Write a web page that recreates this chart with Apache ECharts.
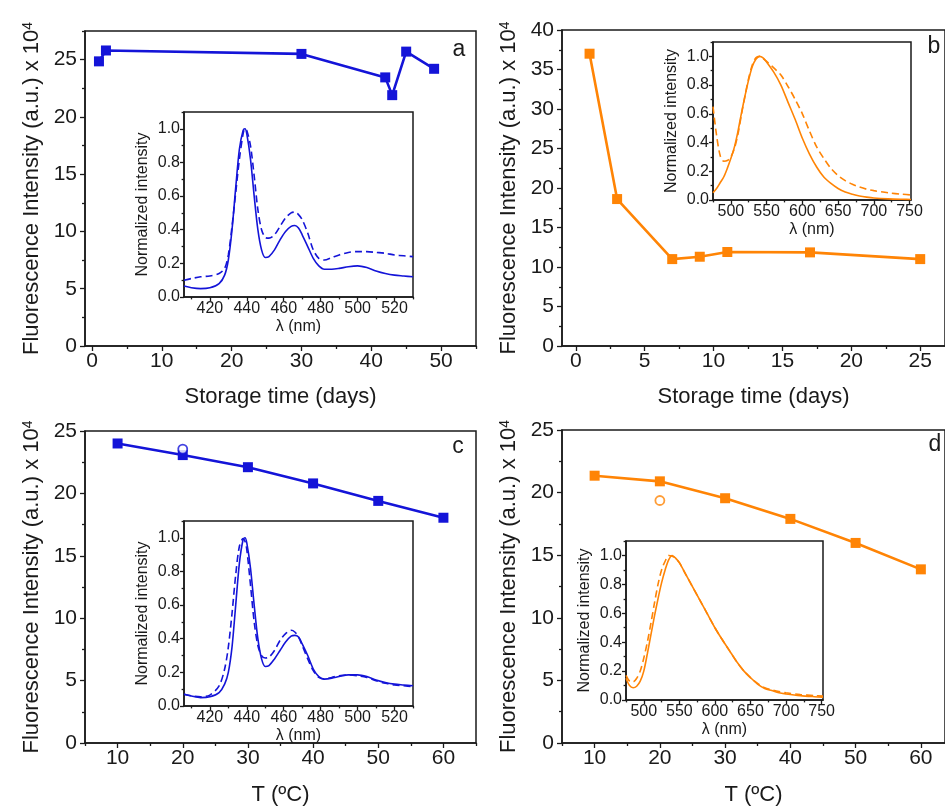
<!DOCTYPE html>
<html>
<head>
<meta charset="utf-8">
<script src="https://cdn.jsdelivr.net/npm/echarts@6/dist/echarts.min.js"></script>
<style>html,body{margin:0;padding:0;background:#fff;}#c{width:945px;height:807px;}</style>
</head>
<body>
<div id="c"></div>
<script>
// ---------------- DATA ----------------
// Panel a: storage time (days) vs intensity (x10^4), blue
const daysA = [1, 2, 30, 42, 43, 45, 49];
const intensityA = [24.85, 25.8, 25.5, 23.45, 21.9, 25.7, 24.2];
// Panel b: storage time (days) vs intensity (x10^4), orange
const daysB = [1, 3, 7, 9, 11, 17, 25];
const intensityB = [37.0, 18.6, 11.0, 11.3, 11.9, 11.85, 11.0];
// Panel c: temperature vs intensity, blue
const tempC = [10, 20, 30, 40, 50, 60];
const intensityC = [24.0, 23.07, 22.1, 20.8, 19.4, 18.05];
const openTempC = [20];
const openIntensityC = [23.55];
// Panel d: temperature vs intensity, orange
const tempD = [10, 20, 30, 40, 50, 60];
const intensityD = [21.35, 20.9, 19.55, 17.9, 15.98, 13.87];
const openTempD = [20];
const openIntensityD = [19.37];

// Insets a & c: normalized spectra (blue)
const lambdaBlue = [406,410,415,420,425,428,430,432,434,436,438,439,440,442,444,446,448,450,452,455,458,461,464,466,468,470,473,476,479,482,486,490,495,500,505,510,515,520,525,530];
const solidA  = [0.065,0.055,0.05,0.055,0.08,0.13,0.22,0.4,0.65,0.88,0.99,1.0,0.97,0.82,0.6,0.4,0.28,0.235,0.24,0.28,0.34,0.39,0.42,0.425,0.41,0.37,0.3,0.23,0.185,0.165,0.165,0.17,0.18,0.185,0.175,0.155,0.14,0.13,0.125,0.12];
const dashedA = [0.1,0.11,0.12,0.125,0.14,0.17,0.25,0.42,0.62,0.82,0.97,1.0,0.99,0.9,0.72,0.52,0.4,0.355,0.35,0.37,0.42,0.47,0.5,0.505,0.49,0.46,0.38,0.28,0.23,0.22,0.235,0.25,0.265,0.27,0.27,0.265,0.26,0.25,0.245,0.24];
const solidC  = [0.07,0.06,0.05,0.055,0.08,0.13,0.2,0.35,0.6,0.85,0.99,1.0,0.97,0.82,0.6,0.4,0.28,0.235,0.24,0.28,0.33,0.38,0.415,0.42,0.41,0.37,0.3,0.22,0.175,0.16,0.165,0.175,0.185,0.185,0.175,0.155,0.14,0.13,0.125,0.12];
const dashedC = [0.07,0.06,0.055,0.065,0.12,0.22,0.35,0.55,0.78,0.95,0.995,0.98,0.93,0.72,0.5,0.36,0.3,0.285,0.29,0.33,0.39,0.43,0.45,0.44,0.41,0.36,0.28,0.21,0.17,0.16,0.17,0.18,0.185,0.18,0.17,0.15,0.135,0.125,0.12,0.115];

// Insets b & d: normalized spectra (orange)
const lambdaOrange = [475,480,485,490,495,500,505,510,515,520,525,530,535,540,545,550,560,570,580,590,600,610,620,630,640,650,660,670,680,690,700,720,740,752];
const solidB  = [0.05,0.08,0.12,0.16,0.22,0.29,0.37,0.48,0.61,0.73,0.84,0.93,0.98,1.0,0.99,0.96,0.89,0.8,0.68,0.56,0.43,0.32,0.23,0.16,0.115,0.08,0.055,0.04,0.028,0.02,0.014,0.008,0.005,0.004];
const dashedB = [0.65,0.45,0.31,0.27,0.275,0.3,0.36,0.46,0.6,0.73,0.85,0.94,0.99,1.0,0.985,0.965,0.92,0.87,0.79,0.7,0.6,0.48,0.37,0.29,0.22,0.17,0.135,0.11,0.09,0.075,0.065,0.05,0.04,0.035];
const solidD  = [0.15,0.1,0.085,0.095,0.13,0.2,0.32,0.45,0.58,0.7,0.81,0.9,0.97,1.0,0.98,0.95,0.86,0.77,0.68,0.59,0.5,0.42,0.345,0.27,0.205,0.155,0.11,0.08,0.065,0.05,0.042,0.03,0.023,0.02];
const dashedD = [0.17,0.13,0.125,0.15,0.2,0.29,0.4,0.53,0.67,0.8,0.9,0.96,1.0,0.995,0.98,0.95,0.86,0.77,0.68,0.59,0.5,0.42,0.345,0.27,0.205,0.155,0.115,0.085,0.07,0.058,0.05,0.038,0.03,0.027];

// Tick values
const ticksDaysA = [0,10,20,30,40,50];
const minorDaysA = [5,15,25,35,45,55];
const ticksDaysB = [0,5,10,15,20,25];
const minorDaysB = [2.5,7.5,12.5,17.5,22.5];
const ticksTemp = [10,20,30,40,50,60];
const minorTemp = [5,15,25,35,45,55,65];
const ticksInt25 = [0,5,10,15,20,25];
const minorInt25 = [2.5,7.5,12.5,17.5,22.5,27.5];
const ticksInt40 = [0,5,10,15,20,25,30,35,40];
const minorInt40 = [2.5,7.5,12.5,17.5,22.5,27.5,32.5,37.5];
const ticksLamBlue = [420,440,460,480,500,520];
const minorLamBlue = [410,430,450,470,490,510,530];
const ticksLamOrange = [500,550,600,650,700,750];
const minorLamOrange = [475,525,575,625,675,725];
const ticksNorm = [0,0.2,0.4,0.6,0.8,1.0];
const minorNorm = [0.1,0.3,0.5,0.7,0.9,1.1];

// ---------------- STYLE / LAYOUT ----------------
const FONT = '"Liberation Sans", Arial, Helvetica, sans-serif';
const BLUE = '#1414d8';
const ORANGE = '#ff8405';
const INK = '#1a1a1a';

const grids = [], xAxes = [], yAxes = [], series = [];

function addGrid(box, o) {
  const gi = grids.length;
  grids.push({left: box[0], top: box[1], width: box[2], height: box[3], show: true,
    borderColor: INK, borderWidth: 1.5, backgroundColor: '#fff'});
  const lineStyle = {color: INK, width: 1.5};
  const tickStyle = {color: INK, width: 1.3};
  const xi = xAxes.length, yi = yAxes.length;
  xAxes.push({type: 'value', gridIndex: gi, min: o.x[0], max: o.x[1], position: 'bottom',
    axisLine: {show: true, onZero: false, lineStyle},
    axisTick: {show: true, customValues: o.xt, length: o.tl, lineStyle: tickStyle},
    axisLabel: {customValues: o.xt, fontSize: o.fs, fontFamily: FONT, color: INK, margin: o.xlm, formatter: o.xf},
    splitLine: {show: false},
    name: o.xn, nameLocation: 'middle', nameGap: o.xng,
    nameTextStyle: {fontSize: o.nfs, fontFamily: FONT, color: INK}});
  xAxes.push({type: 'value', gridIndex: gi, min: o.x[0], max: o.x[1], position: 'bottom',
    axisLine: {show: false, onZero: false},
    axisTick: {show: true, customValues: o.xmt, length: o.tl * 0.6, lineStyle: tickStyle},
    axisLabel: {show: false}, splitLine: {show: false}});
  yAxes.push({type: 'value', gridIndex: gi, min: o.y[0], max: o.y[1], position: 'left',
    axisLine: {show: true, onZero: false, lineStyle},
    axisTick: {show: true, customValues: o.yt, length: o.tl, lineStyle: tickStyle},
    axisLabel: {customValues: o.yt, fontSize: o.fs, fontFamily: FONT, color: INK, margin: o.ylm, formatter: o.yf},
    splitLine: {show: false},
    name: o.yn, nameLocation: 'middle', nameGap: o.yng,
    nameTextStyle: {fontSize: o.nfs, fontFamily: FONT, color: INK,
      rich: {s: {fontSize: Math.round(o.nfs * 0.62), fontFamily: FONT, color: INK, verticalAlign: 'top', lineHeight: 12}}}});
  yAxes.push({type: 'value', gridIndex: gi, min: o.y[0], max: o.y[1], position: 'left',
    axisLine: {show: false, onZero: false},
    axisTick: {show: true, customValues: o.ymt, length: o.tl * 0.6, lineStyle: tickStyle},
    axisLabel: {show: false}, splitLine: {show: false}});
  return {xi, yi};
}

function zip(xs, ys) { return xs.map((x, i) => [x, ys[i]]); }

const YNAME = 'Fluorescence Intensity (a.u.) x 10{s|4}';
const mainOpt = {fs: 21, nfs: 22, tl: 5, xlm: 5, ylm: 8, yng: 42, xng: 40, yn: YNAME};
const insetOpt = {fs: 16, nfs: 16, tl: 4, xlm: 4, ylm: 4, yng: 33, xng: 22,
  yn: 'Normalized intensity', xn: 'λ (nm)', yt: ticksNorm, ymt: minorNorm, y: [0, 1.1],
  yf: v => v.toFixed(1)};

function addMain(ax, xs, ys, color) {
  series.push({type: 'line', xAxisIndex: ax.xi, yAxisIndex: ax.yi, data: zip(xs, ys),
    symbol: 'rect', symbolSize: 10, lineStyle: {color, width: 2.6}, itemStyle: {color}, z: 3});
}
function addOpen(ax, xs, ys, color) {
  series.push({type: 'scatter', xAxisIndex: ax.xi, yAxisIndex: ax.yi, data: zip(xs, ys),
    symbol: 'circle', symbolSize: 9, itemStyle: {color: '#fff', borderColor: color, borderWidth: 1.8}, z: 4});
}
function addSpec(ax, xs, ys, color, dashed) {
  series.push({type: 'line', xAxisIndex: ax.xi, yAxisIndex: ax.yi, data: zip(xs, ys),
    symbol: 'none', smooth: 0.3, lineStyle: {color, width: 1.6, type: dashed ? [7, 4] : 'solid'}, z: 3});
}

// Panel a
const axA = addGrid([85, 31, 391, 315], Object.assign({}, mainOpt,
  {x: [-1, 55], y: [0, 27.5], xt: ticksDaysA, xmt: minorDaysA, yt: ticksInt25, ymt: minorInt25, xn: 'Storage time (days)'}));
addMain(axA, daysA, intensityA, BLUE);
// Panel b
const axB = addGrid([562, 30, 383, 316], Object.assign({}, mainOpt,
  {x: [-1, 26.8], y: [0, 40], xt: ticksDaysB, xmt: minorDaysB, yt: ticksInt40, ymt: minorInt40, xn: 'Storage time (days)'}));
addMain(axB, daysB, intensityB, ORANGE);
// Panel c
const axC = addGrid([85, 431, 391, 315], Object.assign({}, mainOpt,
  {x: [5, 65], y: [0, 25], xt: ticksTemp, xmt: minorTemp, yt: ticksInt25, ymt: minorInt25.slice(0, 5), xn: 'T (ºC)', xng: 41}));
addMain(axC, tempC, intensityC, BLUE);
addOpen(axC, openTempC, openIntensityC, BLUE);
// Panel d
const axD = addGrid([562, 430, 383, 316], Object.assign({}, mainOpt,
  {x: [5, 63.7], y: [0, 25], xt: ticksTemp, xmt: minorTemp.slice(0, 6), yt: ticksInt25, ymt: minorInt25.slice(0, 5), xn: 'T (ºC)', xng: 41}));
addMain(axD, tempD, intensityD, ORANGE);
addOpen(axD, openTempD, openIntensityD, ORANGE);

// Insets
const axIA = addGrid([184, 112, 229, 185], Object.assign({}, insetOpt,
  {x: [406, 530], xt: ticksLamBlue, xmt: minorLamBlue}));
addSpec(axIA, lambdaBlue, solidA, BLUE, false);
addSpec(axIA, lambdaBlue, dashedA, BLUE, true);
const axIB = addGrid([713, 42, 198, 158], Object.assign({}, insetOpt,
  {x: [475, 752], xt: ticksLamOrange, xmt: minorLamOrange}));
addSpec(axIB, lambdaOrange, solidB, ORANGE, false);
addSpec(axIB, lambdaOrange, dashedB, ORANGE, true);
const axIC = addGrid([184, 521, 229, 185], Object.assign({}, insetOpt,
  {x: [406, 530], xt: ticksLamBlue, xmt: minorLamBlue}));
addSpec(axIC, lambdaBlue, solidC, BLUE, false);
addSpec(axIC, lambdaBlue, dashedC, BLUE, true);
const axID = addGrid([626, 541, 197, 159], Object.assign({}, insetOpt,
  {x: [475, 752], xt: ticksLamOrange, xmt: minorLamOrange}));
addSpec(axID, lambdaOrange, solidD, ORANGE, false);
addSpec(axID, lambdaOrange, dashedD, ORANGE, true);

const letter = (t, x, y) => ({type: 'text', x, y, style: {text: t, fontSize: 23, fontFamily: FONT, fill: INK, textAlign: 'center', textVerticalAlign: 'middle'}, z: 10});

const chart = echarts.init(document.getElementById('c'), null, {renderer: 'canvas'});
chart.setOption({
  animation: false,
  backgroundColor: '#fff',
  grid: grids,
  xAxis: xAxes,
  yAxis: yAxes,
  series: series,
  graphic: [letter('a', 459, 50), letter('b', 934, 47), letter('c', 458, 447), letter('d', 935, 445)]
});
</script>
</body>
</html>
